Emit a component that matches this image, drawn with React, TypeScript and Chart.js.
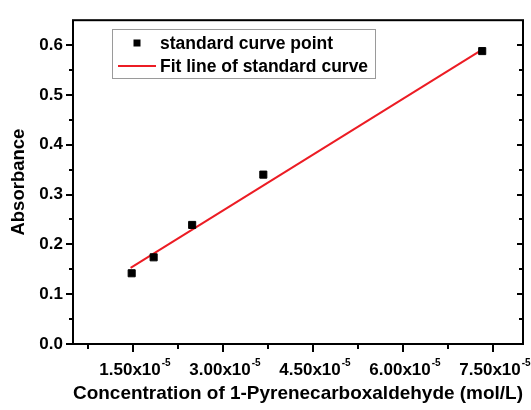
import React, { useEffect, useRef } from "react";
import { Chart, registerables } from "chart.js";

Chart.register(...registerables);

// ---- data ----
const concentration = [1.478e-5, 1.844e-5, 2.486e-5, 3.672e-5, 7.32e-5];
const absorbance = [0.142, 0.174, 0.239, 0.34, 0.588];
const fitConcentration = [1.46e-5, 7.32e-5];
const fitAbsorbance = [0.153, 0.591];

const xMajorTicks = [1.5e-5, 3.0e-5, 4.5e-5, 6.0e-5, 7.5e-5];
const xMinorTicks = [0.75e-5, 2.25e-5, 3.75e-5, 5.25e-5, 6.75e-5];
const xTickLabels = ["1.50x10", "3.00x10", "4.50x10", "6.00x10", "7.50x10"];
const xTickExponent = "-5";
const yMajorTicks = [0, 0.1, 0.2, 0.3, 0.4, 0.5, 0.6];
const yMinorTicks = [0.05, 0.15, 0.25, 0.35, 0.45, 0.55];
const yTickLabels = ["0.0", "0.1", "0.2", "0.3", "0.4", "0.5", "0.6"];
const legendLabels = ["standard curve point", "Fit line of standard curve"];
const xTitle = "Concentration of 1-Pyrenecarboxaldehyde (mol/L)";
const yTitle = "Absorbance";

const FAMILY = '"Liberation Sans", Arial, sans-serif';
const RED = "rgb(236,28,36)";

const framePlugin = {
  id: "originFrame",
  afterDraw(chart: any) {
    const { ctx, chartArea: a, scales } = chart;
    const x = scales.x;
    const y = scales.y;
    ctx.save();
    ctx.strokeStyle = "#000";
    ctx.lineWidth = 2;
    ctx.strokeRect(a.left, a.top, a.right - a.left, a.bottom - a.top);

    ctx.beginPath();
    // left (outward) and right (inward) ticks
    yMajorTicks.forEach((v) => {
      const py = Math.round(y.getPixelForValue(v));
      ctx.moveTo(a.left - 7, py);
      ctx.lineTo(a.left, py);
      ctx.moveTo(a.right, py);
      ctx.lineTo(a.right - 6, py);
    });
    yMinorTicks.forEach((v) => {
      const py = Math.round(y.getPixelForValue(v));
      ctx.moveTo(a.left - 4, py);
      ctx.lineTo(a.left, py);
      ctx.moveTo(a.right, py);
      ctx.lineTo(a.right - 4, py);
    });
    // bottom ticks (outward)
    xMajorTicks.forEach((v) => {
      const px = Math.round(x.getPixelForValue(v));
      ctx.moveTo(px, a.bottom);
      ctx.lineTo(px, a.bottom + 8);
    });
    xMinorTicks.forEach((v) => {
      const px = Math.round(x.getPixelForValue(v));
      ctx.moveTo(px, a.bottom);
      ctx.lineTo(px, a.bottom + 5);
    });
    ctx.stroke();

    // x tick labels with superscript exponent
    const mainFont = `bold 17px ${FAMILY}`;
    const supFont = `bold 10px ${FAMILY}`;
    ctx.fillStyle = "#000";
    ctx.textBaseline = "alphabetic";
    ctx.textAlign = "left";
    xMajorTicks.forEach((v, i) => {
      const px = x.getPixelForValue(v);
      ctx.font = mainFont;
      const w1 = ctx.measureText(xTickLabels[i]).width;
      ctx.font = supFont;
      const w2 = ctx.measureText(xTickExponent).width;
      const start = px - (w1 + w2 + 1) / 2 + 2;
      ctx.font = mainFont;
      ctx.fillText(xTickLabels[i], start, 375);
      ctx.font = supFont;
      ctx.fillText(xTickExponent, start + w1 + 1, 366);
    });

    // legend box
    ctx.lineWidth = 1;
    ctx.strokeStyle = "#9a9a9a";
    ctx.strokeRect(112.5, 29.5, 263, 49);
    ctx.fillStyle = "#000";
    ctx.fillRect(133.5, 39.5, 7, 7);
    ctx.strokeStyle = RED;
    ctx.lineWidth = 2;
    ctx.beginPath();
    ctx.moveTo(118, 66);
    ctx.lineTo(156, 66);
    ctx.stroke();
    ctx.font = `bold 17.5px ${FAMILY}`;
    ctx.fillStyle = "#000";
    ctx.fillText(legendLabels[0], 160, 49);
    ctx.fillText(legendLabels[1], 160, 72);
    ctx.restore();
  },
};

export default function App() {
  const ref = useRef<HTMLCanvasElement | null>(null);

  useEffect(() => {
    document.body.style.margin = "0";
    const canvas = ref.current;
    if (!canvas) return;
    const chart = new Chart(canvas, {
      type: "scatter",
      data: {
        datasets: [
          {
            label: legendLabels[1],
            data: fitConcentration.map((c, i) => ({ x: c, y: fitAbsorbance[i] })),
            showLine: true,
            borderColor: RED,
            borderWidth: 2,
            pointRadius: 0,
            order: 1,
          } as any,
          {
            label: legendLabels[0],
            data: concentration.map((c, i) => ({ x: c, y: absorbance[i] })),
            pointStyle: "rect",
            pointRadius: 5,
            pointBackgroundColor: "#000",
            pointBorderColor: "#000",
            pointBorderWidth: 1,
            showLine: false,
            order: 0,
          } as any,
        ],
      },
      options: {
        responsive: false,
        animation: false,
        devicePixelRatio: 1,
        layout: { padding: { top: 13, right: 8, left: 0, bottom: 0 } },
        plugins: {
          legend: { display: false },
          tooltip: { enabled: false },
        },
        scales: {
          x: {
            type: "linear",
            min: 0.5e-5,
            max: 8.0e-5,
            grid: { display: false, drawTicks: false },
            border: { display: false },
            ticks: { display: false },
            afterBuildTicks: (scale: any) => {
              scale.ticks = xMajorTicks.map((v) => ({ value: v }));
            },
            afterFit: (scale: any) => {
              scale.height = 66;
            },
            title: {
              display: true,
              text: xTitle,
              color: "#000",
              font: { family: FAMILY, size: 19, weight: "bold" },
              padding: { top: 0, bottom: 5 },
            },
          },
          y: {
            type: "linear",
            min: 0,
            max: 0.65,
            grid: { display: false, drawTicks: false },
            border: { display: false },
            afterBuildTicks: (scale: any) => {
              scale.ticks = yMajorTicks.map((v) => ({ value: v }));
            },
            afterFit: (scale: any) => {
              scale.width = 73;
            },
            ticks: {
              color: "#000",
              padding: 10,
              font: { family: FAMILY, size: 17, weight: "bold" },
              callback: (_v: any, i: number) => yTickLabels[i],
            },
            title: {
              display: true,
              text: yTitle,
              color: "#000",
              font: { family: FAMILY, size: 18.5, weight: "bold" },
              padding: { top: 8, bottom: 0 },
            },
          },
        },
      },
      plugins: [framePlugin],
    });
    return () => chart.destroy();
  }, []);

  return (
    <div style={{ width: 531, height: 410 }}>
      <canvas ref={ref} width={531} height={410} style={{ display: "block" }} />
    </div>
  );
}
